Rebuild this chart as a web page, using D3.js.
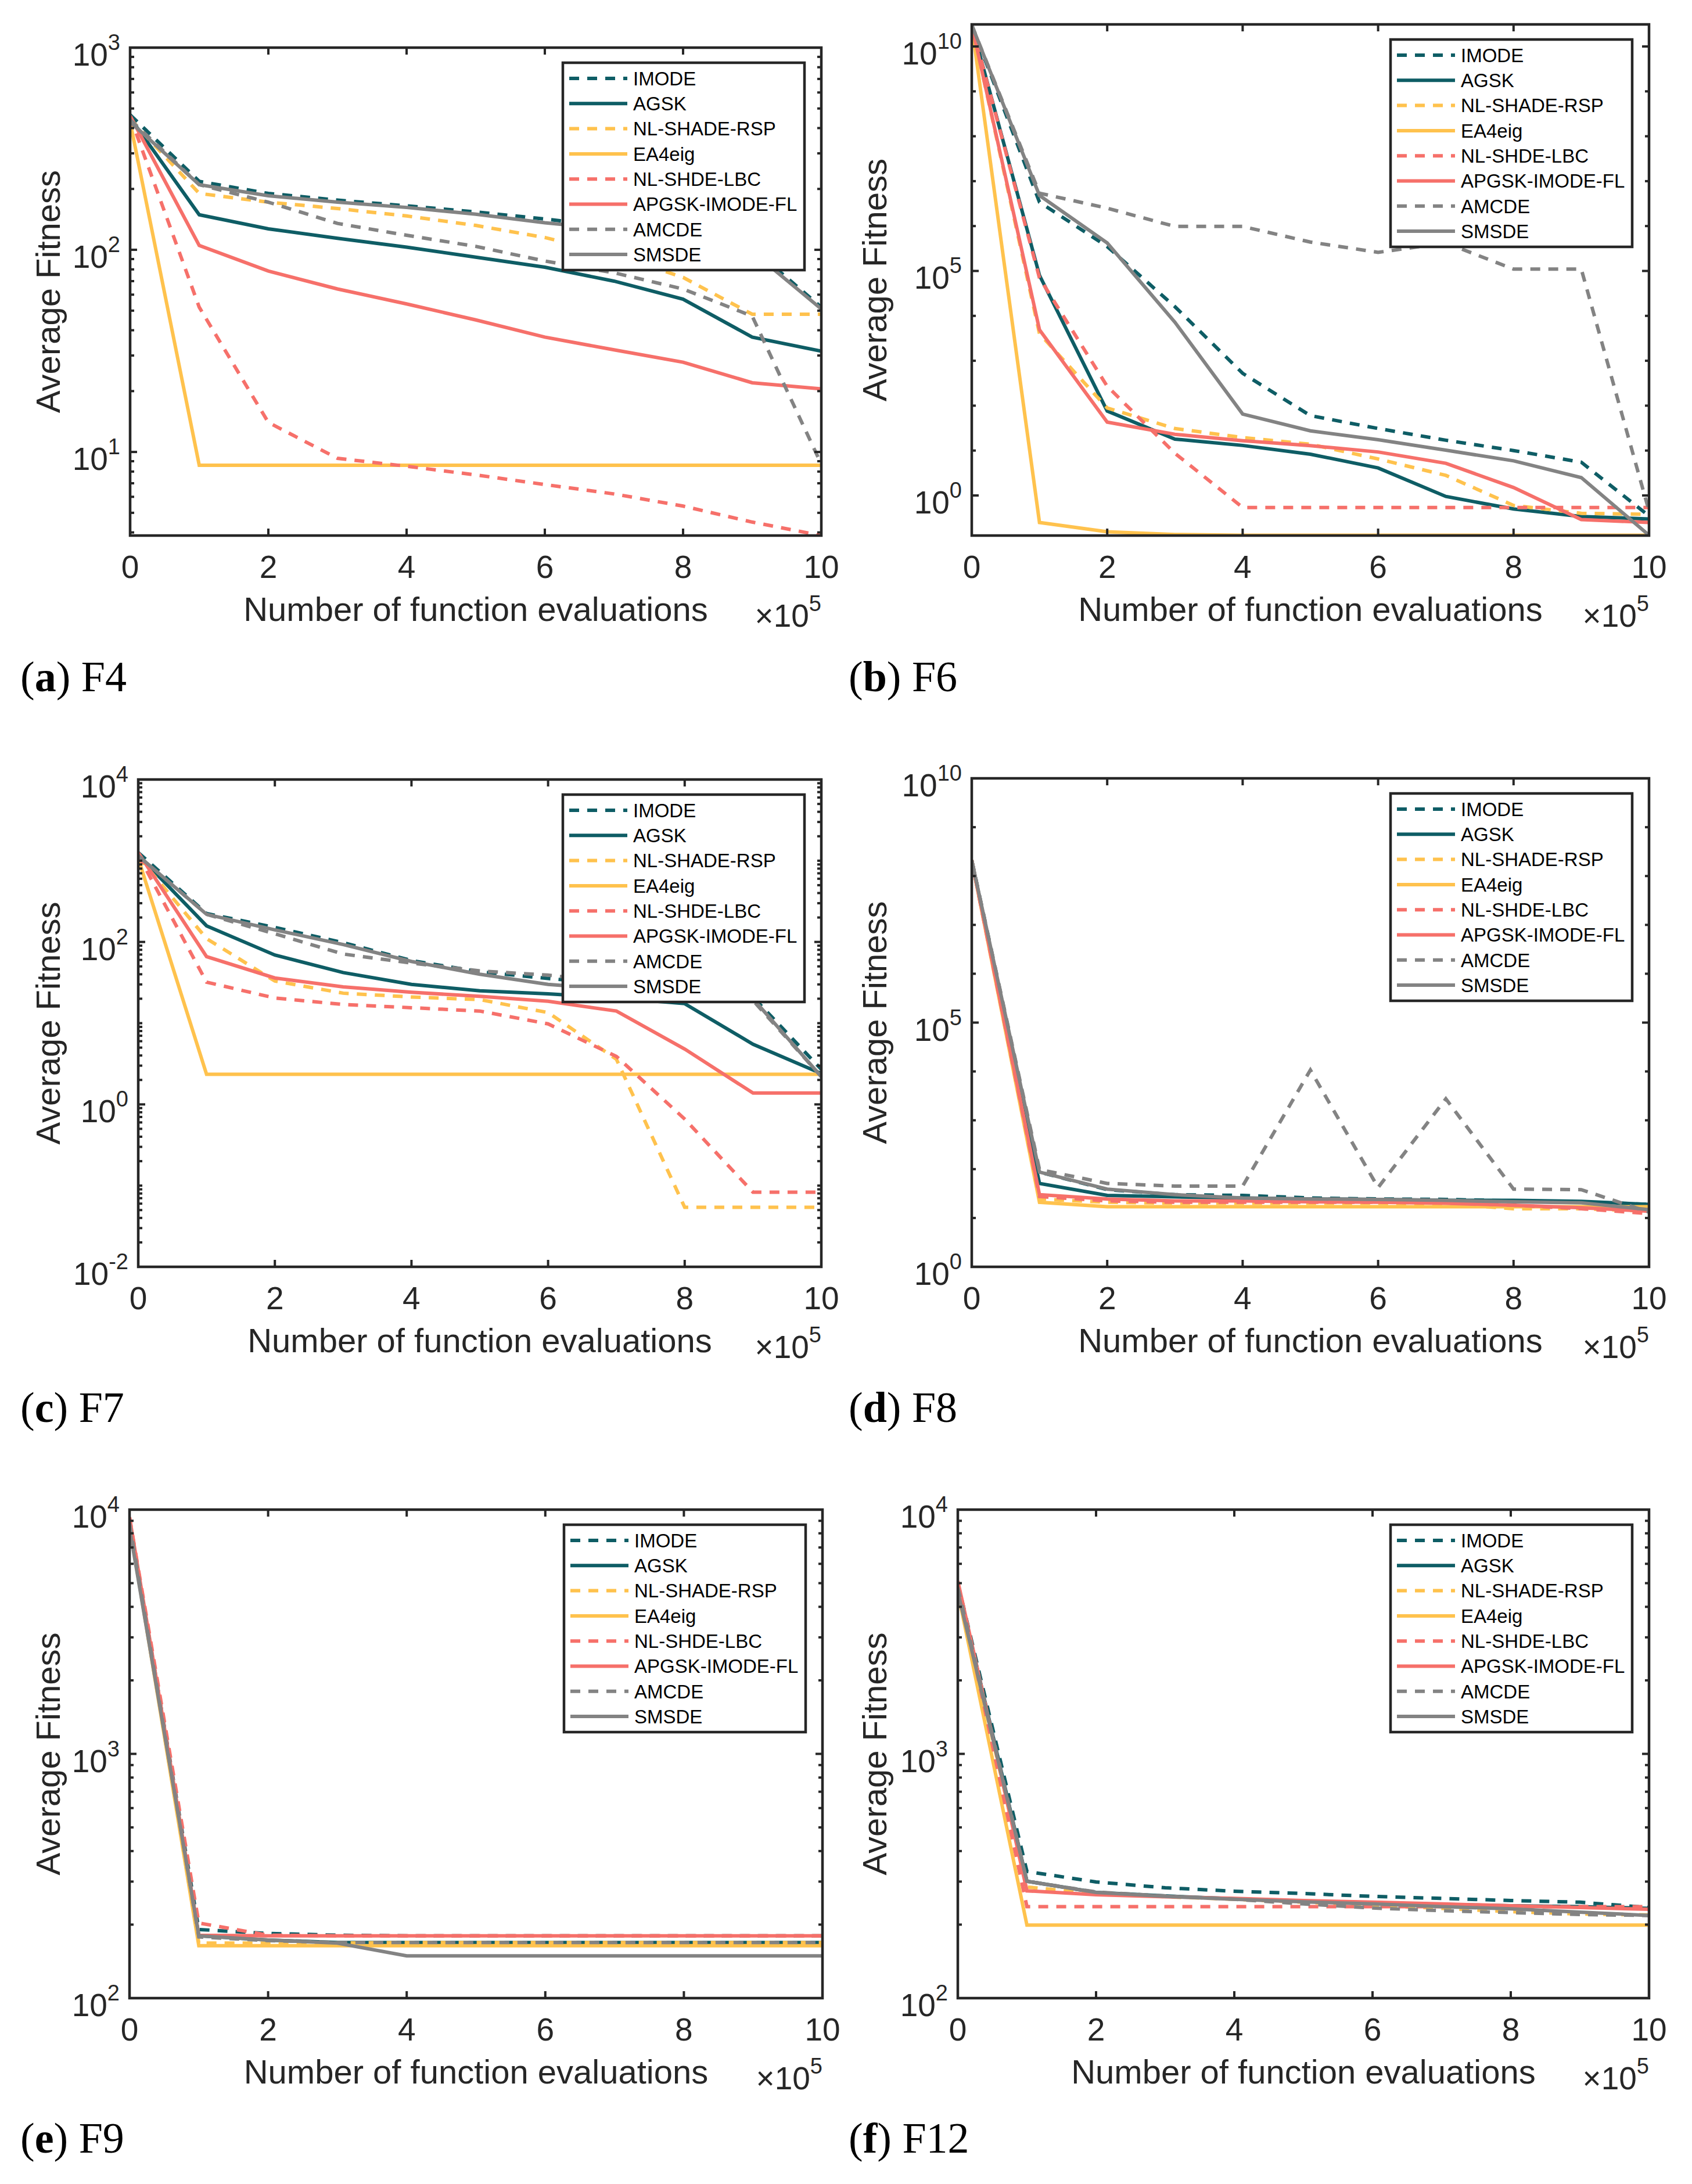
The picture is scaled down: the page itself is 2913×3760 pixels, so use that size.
<!DOCTYPE html>
<html>
<head>
<meta charset="utf-8">
<script src="https://cdn.jsdelivr.net/npm/d3@7"></script>
<style>
  body { margin: 0; background: #fff; }
  text { font-family: "Liberation Sans", Arial, Helvetica, sans-serif; fill: #262626; }
</style>
</head>
<body>
<svg id="fig"></svg>
<script>
// function evaluations, in units of 1e5
const evals = [0, 1, 2, 3, 4, 5, 6, 7, 8, 9, 10];
const xTicks = [0, 2, 4, 6, 8, 10];

const algorithms = ['IMODE', 'AGSK', 'NL-SHADE-RSP', 'EA4eig', 'NL-SHDE-LBC', 'APGSK-IMODE-FL', 'AMCDE', 'SMSDE'];
const colors = ['#0e5d65', '#0e5d65', '#ffc24d', '#ffc24d', '#f6706a', '#f6706a', '#838383', '#838383'];
const dashed = [true, false, true, false, true, false, true, false];

// average fitness per algorithm (same order as algorithms)
const f4 = [
    [465, 218, 190, 176, 165, 154, 142, 130, 118, 102, 52],
    [450, 149, 127, 114, 103, 92, 82, 70, 57, 37, 31.5],
    [445, 190, 172, 160, 147, 132, 115, 95, 73, 48, 48],
    [430, 8.6, 8.6, 8.6, 8.6, 8.6, 8.6, 8.6, 8.6, 8.6, 8.6],
    [456, 52, 14, 9.3, 8.5, 7.7, 6.9, 6.2, 5.4, 4.5, 3.86],
    [460, 105, 78.5, 64, 54, 45, 37, 32, 27.8, 22, 20.5],
    [440, 210, 172, 135, 118, 104, 88, 77, 64, 47, 8.7],
    [430, 210, 185, 172, 162, 150, 136, 126, 114, 98, 51],
];
const f6 = [
    [3e10, 3.4e6, 3.5e5, 1.6e4, 525, 60, 31, 17, 10, 5.5, 0.35],
    [3e10, 8e4, 76, 18, 13, 8.3, 4.1, 0.95, 0.5, 0.34, 0.3],
    [3e10, 4000, 89, 31, 19.5, 13.8, 6.5, 2.8, 0.6, 0.4, 0.38],
    [3e10, 0.25, 0.155, 0.135, 0.13, 0.13, 0.13, 0.13, 0.13, 0.13, 0.13],
    [3e10, 7e4, 270, 8.7, 0.54, 0.54, 0.54, 0.54, 0.54, 0.54, 0.54],
    [3e10, 4900, 43, 23, 16.6, 12.9, 9.3, 5.2, 1.5, 0.29, 0.25],
    [3e10, 5.4e6, 2.5e6, 9.8e5, 9.8e5, 4.4e5, 2.6e5, 4.2e5, 1.1e5, 1.1e5, 0.45],
    [3e10, 4.8e6, 4.2e5, 7200, 65, 27.5, 17.4, 10.2, 5.9, 2.5, 0.13],
];
const f7 = [
    [1260, 224, 151, 98, 59, 43, 35.5, 30, 25, 21, 2.7],
    [1175, 158, 69, 42, 30, 25, 23, 20.4, 17.4, 5.5, 2.4],
    [1120, 110, 33, 23.4, 21, 19.5, 13.5, 3.6, 0.054, 0.054, 0.054],
    [1070, 2.35, 2.35, 2.35, 2.35, 2.35, 2.35, 2.35, 2.35, 2.35, 2.35],
    [1175, 32, 20.4, 17, 15.5, 14.1, 9.8, 3.9, 0.66, 0.083, 0.083],
    [1260, 66, 36, 28, 24, 21.4, 18.6, 14.1, 4.8, 1.38, 1.38],
    [1150, 219, 126, 71, 55, 44, 39, 32, 26, 19, 2.2],
    [1150, 219, 141, 93, 57.5, 40, 30, 26, 23, 20, 2.2],
];
const f8 = [
    [2.1e8, 87, 38, 30, 29, 25.7, 24.5, 24, 22.4, 21.4, 19],
    [2.1e8, 51, 29, 27, 25.7, 24.5, 24, 23, 23, 21.9, 19],
    [2.1e8, 24.5, 21, 20, 20, 20, 20, 19.5, 15.5, 15.5, 13.8],
    [2.1e8, 21, 17, 17, 17, 17, 17, 17, 17, 17, 17],
    [2.1e8, 27.5, 22.4, 21, 21, 21, 21, 20.4, 18.2, 15.5, 12.3],
    [2.1e8, 30, 24.5, 22.4, 22.4, 21.4, 21, 20, 18.2, 16.2, 13.8],
    [2.1e8, 98, 51, 45, 45, 1.07e4, 42, 2750, 39, 38, 13.2],
    [2.1e8, 87, 39, 30, 25.7, 24.5, 24, 23, 21.4, 20.4, 14.8],
];
const f9 = [
    [8900, 191, 184, 181, 180, 180, 180, 180, 180, 180, 180],
    [8700, 180, 173, 169, 169, 169, 169, 169, 169, 169, 169],
    [8700, 168, 168, 168, 169, 169, 169, 169, 169, 169, 169],
    [8700, 164, 164, 164, 164, 164, 164, 164, 164, 164, 164],
    [9300, 203, 181, 180, 180, 180, 180, 180, 180, 180, 180],
    [9300, 181, 180, 180, 180, 180, 180, 180, 180, 180, 180],
    [8800, 178, 172, 169, 169, 169, 169, 169, 169, 169, 169],
    [8400, 180, 173, 168, 149, 149, 149, 149, 149, 149, 149],
];
const f12 = [
    [5000, 330, 299, 283, 274, 268, 261, 256, 251, 247, 235],
    [4900, 301, 271, 262, 255, 250, 246, 242, 239, 237, 233],
    [4700, 285, 268, 260, 254, 247, 240, 233, 226, 221, 219],
    [4600, 199, 199, 199, 199, 199, 199, 199, 199, 199, 199],
    [5000, 237, 237, 237, 237, 237, 237, 237, 237, 237, 237],
    [5100, 275, 265, 260, 256, 251, 247, 243, 239, 235, 231],
    [4800, 301, 272, 262, 254, 243, 234, 228, 224, 220, 218],
    [4600, 301, 271, 261, 254, 248, 243, 237, 232, 225, 218],
];

// y axis ranges and labelled exponents
const yDomains = [[3.86, 1e3], [0.128, 3.1e10], [1e-2, 1e4], [1, 1e10], [1e2, 1e4], [1e2, 1e4]];
const yLabelExps = [[1, 2, 3], [0, 5, 10], [-2, 0, 2, 4], [0, 5, 10], [2, 3, 4], [2, 3, 4]];
const minorDecadeOnly = [false, true, false, true, false, false];
const panelLetters = ['a', 'b', 'c', 'd', 'e', 'f'];
const panelNames = ['F4', 'F6', 'F7', 'F8', 'F9', 'F12'];
const panelData = [f4, f6, f7, f8, f9, f12];

// plot boxes [left, right, top, bottom]
const boxes = [
    [224, 1414, 82, 922],
    [1673, 2839, 42, 922],
    [238, 1414, 1342, 2181],
    [1673, 2839, 1340, 2181],
    [223, 1416, 2599, 3440],
    [1649, 2839, 2599, 3440],
];
const yLabelX = [103, 1526, 103, 1526, 103, 1526];
const captionPos = [[35, 1190], [1461, 1190], [35, 2448], [1461, 2448], [35, 3706], [1461, 3706]];

const W = 2913, H = 3760;
const axisColor = '#262626';

const svg = d3.select('#fig').attr('width', W).attr('height', H);
svg.append('rect').attr('width', W).attr('height', H).attr('fill', '#fff');

panelData.forEach((data, i) => drawPanel(i, data));

function drawPanel(i, data) {
    const [L, R, T, B] = boxes[i];
    const g = svg.append('g');

    const x = d3.scaleLinear().domain([0, 10]).range([L, R]);
    const y = d3.scaleLog().domain(yDomains[i]).range([B, T]);

    const clipId = 'clip' + i;
    g.append('clipPath').attr('id', clipId)
        .append('rect').attr('x', L).attr('y', T).attr('width', R - L).attr('height', B - T);

    // series
    const line = d3.line().x((d, k) => x(evals[k])).y((d) => y(d));
    g.append('g').attr('clip-path', `url(#${clipId})`)
        .selectAll('path')
        .data(data)
        .enter()
        .append('path')
        .attr('d', (d) => line(d))
        .attr('fill', 'none')
        .attr('stroke', (d, k) => colors[k])
        .attr('stroke-width', 6)
        .attr('stroke-dasharray', (d, k) => (dashed[k] ? '17,14' : null));

    // x ticks, bottom and top, pointing inward
    xTicks.forEach((t) => {
        g.append('line').attr('x1', x(t)).attr('x2', x(t)).attr('y1', B).attr('y2', B - 12)
            .attr('stroke', axisColor).attr('stroke-width', 4);
        g.append('line').attr('x1', x(t)).attr('x2', x(t)).attr('y1', T).attr('y2', T + 12)
            .attr('stroke', axisColor).attr('stroke-width', 4);
        g.append('text').attr('x', x(t)).attr('y', B + 73)
            .attr('text-anchor', 'middle').attr('font-size', 55).text(t);
    });

    // y ticks
    const [lo, hi] = yDomains[i];
    const e0 = Math.floor(Math.log10(lo)), e1 = Math.ceil(Math.log10(hi));
    const majors = yLabelExps[i].map((e) => Math.pow(10, e));
    const minors = [];
    for (let e = e0; e <= e1; e++) {
        const ms = minorDecadeOnly[i] ? [1] : [1, 2, 3, 4, 5, 6, 7, 8, 9];
        ms.forEach((m) => {
            const v = m * Math.pow(10, e);
            if (v >= lo && v <= hi && !yLabelExps[i].includes(e) || (m > 1 && v >= lo && v <= hi)) minors.push(v);
        });
    }
    const tick = (v, len) => {
        g.append('line').attr('x1', L).attr('x2', L + len).attr('y1', y(v)).attr('y2', y(v))
            .attr('stroke', axisColor).attr('stroke-width', 4);
        g.append('line').attr('x1', R).attr('x2', R - len).attr('y1', y(v)).attr('y2', y(v))
            .attr('stroke', axisColor).attr('stroke-width', 4);
    };
    minors.forEach((v) => tick(v, 7));
    majors.forEach((v, k) => {
        tick(v, 12);
        const lab = g.append('text').attr('x', L - 17).attr('y', y(v) + 31)
            .attr('text-anchor', 'end').attr('font-size', 55).text('10');
        lab.append('tspan').attr('dy', -27).attr('font-size', 38).text(yLabelExps[i][k]);
    });

    // box
    g.append('rect').attr('x', L).attr('y', T).attr('width', R - L).attr('height', B - T)
        .attr('fill', 'none').attr('stroke', axisColor).attr('stroke-width', 4.5);

    // axis titles
    g.append('text').attr('x', (L + R) / 2).attr('y', B + 147)
        .attr('text-anchor', 'middle').attr('font-size', 58).text('Number of function evaluations');
    const xm = g.append('text').attr('x', R).attr('y', B + 157)
        .attr('text-anchor', 'end').attr('font-size', 55).text('\u00d710');
    xm.append('tspan').attr('dy', -27).attr('font-size', 38).text('5');
    g.append('text')
        .attr('transform', `translate(${yLabelX[i]},${(T + B) / 2}) rotate(-90)`)
        .attr('text-anchor', 'middle').attr('font-size', 58).text('Average Fitness');

    // legend
    const lw = 416, lh = 357;
    const lx = R - 29 - lw, ly = T + 26;
    const leg = g.append('g');
    leg.append('rect').attr('x', lx).attr('y', ly).attr('width', lw).attr('height', lh)
        .attr('fill', '#fff').attr('stroke', axisColor).attr('stroke-width', 4.5);
    algorithms.forEach((name, k) => {
        const cy = ly + 27 + k * 43.3;
        leg.append('line').attr('x1', lx + 11).attr('x2', lx + 111).attr('y1', cy).attr('y2', cy)
            .attr('stroke', colors[k]).attr('stroke-width', 6)
            .attr('stroke-dasharray', dashed[k] ? '17,14' : null);
        leg.append('text').attr('x', lx + 121).attr('y', cy).attr('dy', '0.36em')
            .attr('font-size', 33).style('fill', '#000').text(name);
    });

    // caption
    const cap = svg.append('text').attr('x', captionPos[i][0]).attr('y', captionPos[i][1])
        .style('font-family', '"Liberation Serif", "Times New Roman", serif')
        .style('fill', '#000').attr('font-size', 74);
    cap.append('tspan').text('(');
    cap.append('tspan').attr('font-weight', 'bold').text(panelLetters[i]);
    cap.append('tspan').text(') ' + panelNames[i]);
}
</script>
</body>
</html>
